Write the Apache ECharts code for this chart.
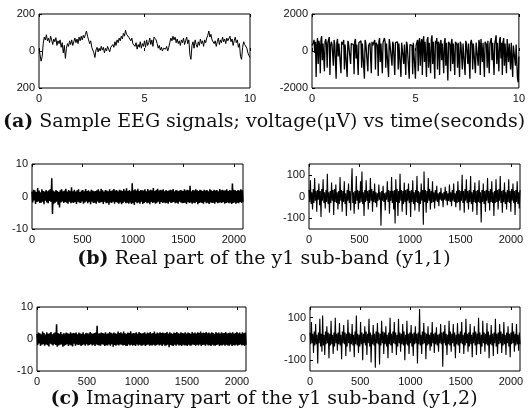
<!DOCTYPE html>
<html>
<head>
<meta charset="utf-8">
<script src="https://cdn.jsdelivr.net/npm/echarts@6/dist/echarts.min.js"></script>
<style>
  html, body { margin: 0; padding: 0; background: #fff; }
  #chart { width: 528px; height: 418px; }
</style>
</head>
<body>
<div id="chart"></div>
<script>
// (a) sample EEG signals, voltage (uV) vs time (s), 0..10 s
const eegLeft = [
  10, -20, -55, -30, 40, 75, 60, 88, 55, 70, 45, 80, 60, 35, 65, 50, 72, 30, 55, 40,
  60, 20, 45, -10, 30, -40, 15, 40, 25, 55, 35, 60, 30, 50, 70, 45, 65, 40, 75, 55,
  80, 60, 85, 70, 90, 108, 80, 60, 40, 55, 20, 30, -10, -35, 5, 20, -5, 15, 0, 25,
  5, 20, -10, 15, 0, 25, 10, -5, 20, 10, 35, 20, 50, 30, 60, 45, 70, 55, 80, 65,
  95, 80, 112, 90, 100, 75, 85, 55, 70, 40, 50, 25, 45, 10, 35, 20, 50, 15, 40, 25,
  55, 20, 60, 30, 45, 70, 35, 60, 25, 75, 85, 60, 40, 15, 30, 5, 20, 0, 15, 5,
  10, 25, 0, 20, 45, 70, 55, 80, 60, 75, 45, 65, 40, 55, 30, 60, 45, 70, 35, 55,
  75, 40, 60, -20, -45, 30, 50, 15, 60, 35, 20, 50, 30, 65, 40, 55, 25, 60, 45, 70,
  85, 108, 75, 90, 60, 70, 40, 55, 25, 50, 70, 35, 60, 45, 75, 50, 65, 40, 70, 55,
  45, 80, 50, 65, 30, 55, 75, 45, 60, 20, 40, -30, -45, 20, 50, 35, 45, 15, -10, -25, -35
];
const eegRight = [
  300, 250, 450, 600, -100, 500, -1400, 300, 700, -700, 550, 350, -1200, 600, 800, -500, 400, 300, -1100, 500, 650, 350, -900, 450, 400, 750, -1300, 300, 500, 350,
  400, -800, 600, 350, 300, -1500, 450, 650, -300, 400, 350, 300, -1200, 500, 400, 350, 600, -1000, 350, 300, 450, -1400, 550, 400, 300, 350, -700, 400, 450, 300,
  350, -1250, 500, 650, -400, 350, 300, -1300, 450, 400, 350, 550, -900, 400, 300, 350, -1500, 600, 450, 350, 400, -1100, 300, 350, 450, 350, -1200, 500, 300, 400,
  350, 600, -1000, 450, 350, 300, -1350, 500, 700, -600, 400, 350, -1200, 450, 350, 700, 500, -900, 400, 350, 300, -1400, 650, 400, 350, 300, -800, 500, 350, 300,
  -1300, 450, 400, 350, 500, -1000, 400, 350, 300, -1400, 450, 350, 400, -700, 350, 300, -1300, 500, 350, 400, 300, -1500, 350, 400, 350, 300, -1250, 450, 400, 350,
  -1500, 300, 350, 600, -1100, 500, 700, -800, 400, 650, -1300, 550, 800, -600, 500, 400, -1400, 600, 750, -900, 450, 350, -1200, 600, 850, -700, 500, 400, -1500, 550,
  400, 700, -1000, 500, 350, -1300, 450, 600, -500, 400, 350, -1200, 500, 700, -800, 450, 350, -1600, 500, 400, 350, -1100, 450, 650, -700, 400, 350, -1300, 500, 400,
  350, -900, 450, 400, -1400, 500, 350, 300, -1000, 400, 350, 450, -1300, 550, 400, 350, -700, 400, 350, -1500, 450, 600, 350, -1000, 400, 350, 300, -1200, 450, 350,
  500, -800, 600, 400, -1300, 650, 700, -600, 450, 350, -1400, 500, 400, 350, -900, 550, 600, -1200, 400, 350, 700, -500, 450, 350, -1300, 400, 600, 850, -700, 450,
  400, -1100, 600, 750, -400, 450, -1300, 500, 700, -800, 400, 350, -1200, 650, 550, -600, 400, 350, -1000, 450, 550, -1400, 300, 350, 400, -800, 350, 300, -1500, -1700, -300
];

// (b) real part of the y1 sub-band, samples 0..~2090
const realLeft = [
  1.5,-1.8,2.1,-1.2,1.9,-2.3,1.4,-1.7,2.6,-1.5,1.8,-2.0,1.3,-1.9,2.2,-1.6,1.7,-2.4,1.5,-1.3,2.0,-1.8,1.6,-2.1,1.9,-1.4,2.3,-1.7,5.6,-5.4,
  1.8,-2.2,1.5,-1.9,2.0,-1.6,1.7,-2.5,1.4,-3.4,1.9,-1.8,2.2,-1.5,1.6,-2.0,1.8,-1.7,2.4,-1.9,1.5,-2.2,2.0,-1.6,1.7,-2.1,2.8,-1.8,1.6,-2.0,
  2.1,-1.7,1.5,-2.3,1.9,-1.6,2.2,-1.9,1.4,-2.0,1.8,-1.5,2.0,-2.2,1.6,-1.8,2.3,-1.5,1.7,-2.1,1.9,-1.7,1.5,-2.4,2.1,-1.6,1.8,-2.0,1.6,-1.9,
  1.7,-2.2,1.9,-1.5,2.2,-2.0,1.6,-1.8,2.4,-1.7,1.9,-2.3,1.5,-1.6,2.0,-2.1,1.8,-1.9,1.6,-2.5,2.2,-1.8,1.7,-2.0,1.9,-1.6,2.3,-2.2,1.8,-1.7,
  2.0,-1.9,1.6,-2.2,2.1,-1.8,1.9,-2.4,1.7,-2.0,2.3,-1.6,1.8,-2.1,2.5,-1.9,1.7,-2.2,2.0,-1.8,1.6,-2.3,4.1,-2.0,1.9,-2.6,2.2,-1.7,1.8,-2.1,
  2.4,-1.8,1.7,-2.2,2.0,-1.6,1.9,-2.3,1.8,-2.0,2.2,-1.7,1.6,-2.1,2.3,-1.9,1.8,-2.4,2.1,-1.7,1.9,-2.0,2.6,-1.8,1.7,-2.2,2.0,-1.9,2.4,-1.6,
  1.8,-2.3,2.1,-1.7,1.9,-2.0,2.2,-1.8,1.6,-2.1,2.0,-1.9,1.7,-2.2,1.8,-1.6,2.1,-2.0,1.9,-1.8,2.3,-1.7,1.6,-2.1,2.0,-1.9,1.8,-2.2,1.7,-1.6,
  2.0,-1.8,1.9,-2.1,1.7,-2.0,2.2,-1.9,1.8,-2.3,2.1,-1.7,1.9,-2.0,3.3,-1.8,1.6,-2.2,2.0,-1.9,1.8,-2.1,2.2,-1.7,1.9,-2.4,1.7,-2.0,2.1,-1.8,
  1.9,-2.0,1.7,-2.2,2.1,-1.6,1.8,-2.1,2.0,-1.9,1.6,-2.3,2.2,-1.8,1.9,-2.0,1.7,-1.9,2.1,-2.2,1.8,-1.7,2.0,-2.1,1.6,-1.9,2.3,-1.8,1.9,-2.0,
  2.1,-1.7,1.8,-2.2,1.9,-2.0,2.2,-1.8,1.7,-2.1,2.0,-1.9,1.8,-2.3,4.0,-2.0,2.1,-1.8,1.9,-2.2,1.7,-1.9,2.0,-2.1,1.8,-1.7,2.2,-2.0,1.9,-1.6
];
const realRight = [
  30,-25,75,-35,20,-60,35,-30,85,-20,25,-70,30,-15,60,-40,25,-95,35,-20,80,-30,20,-55,30,-25,105,-35,20,-75,
  25,-30,65,-20,30,-85,35,-25,55,-30,20,-60,25,-35,90,-20,30,-70,25,-25,70,-35,15,-90,30,-20,60,-30,25,-65,
  35,130,-30,20,-80,25,-35,95,-20,30,-60,25,-30,70,-25,115,-35,20,-90,30,-25,75,-20,25,-60,30,-30,85,-20,35,
  -70,25,-25,60,-30,20,-50,15,-20,55,-15,20,-135,25,-20,50,-25,15,-65,20,-15,70,-25,30,-80,25,-20,90,-30,25,
  -60,30,-125,80,-25,35,-90,25,-30,105,-20,30,-70,25,-35,65,-25,30,-85,35,-20,60,-30,25,-95,30,-25,75,-35,20,
  -65,30,-25,95,-30,25,-70,20,-35,60,-20,30,-130,115,-25,30,-75,25,-30,85,-20,35,-60,25,-30,70,-25,20,-55,30,
  -20,50,-25,15,-45,20,-15,40,-20,15,-50,20,-15,45,-20,25,-40,15,-20,55,-25,20,-45,30,-20,60,-25,15,-50,25,
  -30,70,-25,30,-65,25,-20,100,-30,25,-75,35,-20,80,-30,25,-60,30,-25,95,-35,20,-70,30,-25,65,-30,25,-85,30,
  -25,75,-30,20,-120,30,-25,60,-35,25,-70,30,-20,85,-30,25,-65,35,-25,70,-30,20,-90,25,-30,80,-25,30,-60,35,
  -20,95,-30,25,-75,30,-25,65,-35,20,-60,30,-25,80,-30,25,-70,35,-20,60,-30,25,-85,30,-25,70,-35,20,-55,30
];

// (c) imaginary part of the y1 sub-band
const imagLeft = [
  1.6,-1.9,2.0,-1.4,1.8,-2.2,1.5,-1.8,2.3,-1.6,1.9,-2.1,1.4,-1.7,2.1,-1.9,1.6,-2.3,1.8,-1.5,2.2,-1.7,1.5,-2.0,1.8,-1.6,2.1,-1.9,4.6,-2.4,
  1.9,-2.0,1.6,-1.8,2.2,-1.7,1.5,-2.4,1.8,-2.1,1.7,-1.9,2.0,-1.6,1.8,-2.2,1.6,-1.8,2.1,-2.0,1.7,-2.3,1.9,-1.5,1.8,-2.1,2.0,-1.7,1.5,-1.9,
  2.0,-1.8,1.7,-2.2,1.6,-1.9,2.1,-1.7,1.5,-2.1,1.9,-1.6,1.8,-2.0,1.7,-1.9,2.2,-1.6,1.8,-2.0,1.6,-1.8,1.9,-2.2,2.0,-1.7,4.1,-1.9,1.7,-2.0,
  1.8,-2.1,2.0,-1.6,1.9,-1.8,1.7,-2.2,2.1,-1.9,1.6,-2.0,1.8,-1.7,2.2,-2.1,1.9,-1.6,1.7,-2.4,2.0,-1.9,1.8,-2.1,1.6,-1.8,2.3,-2.0,1.9,-1.7,
  2.1,-1.8,1.7,-2.0,2.3,-1.9,1.8,-2.1,1.6,-2.2,2.0,-1.7,1.9,-2.0,2.4,-1.8,1.7,-2.1,1.9,-1.9,1.8,-2.2,2.1,-1.7,1.6,-2.0,2.2,-1.8,1.9,-2.1,
  1.7,-2.0,1.9,-1.8,2.1,-2.2,1.6,-1.9,2.0,-1.7,1.8,-2.1,2.2,-1.9,1.7,-2.0,1.9,-1.8,2.3,-2.1,1.6,-1.9,2.0,-1.7,1.8,-2.0,2.1,-1.8,1.9,-2.2,
  2.0,-1.7,1.8,-2.1,1.9,-2.0,2.2,-1.8,1.7,-2.6,2.1,-1.9,1.8,-2.0,1.6,-2.2,2.0,-1.8,1.9,-2.1,2.2,-1.7,1.8,-2.0,1.7,-1.9,2.1,-2.2,1.9,-1.8,
  1.8,-2.0,2.1,-1.9,1.7,-2.2,2.0,-1.8,1.9,-2.1,1.6,-2.0,2.2,-1.7,1.8,-1.9,2.0,-2.1,1.7,-1.8,2.1,-2.0,1.9,-1.7,2.3,-2.2,1.8,-1.9,2.0,-1.8,
  1.9,-2.1,2.2,-1.7,1.8,-2.0,2.0,-1.9,1.7,-2.2,2.1,-1.8,1.9,-2.0,1.6,-2.1,2.2,-1.9,1.8,-1.7,2.0,-2.2,1.7,-1.9,2.1,-2.0,1.8,-1.8,1.9,-2.1,
  2.2,-1.8,1.7,-2.0,1.9,-2.1,2.0,-1.7,1.8,-2.2,2.1,-1.9,1.7,-2.0,1.9,-1.8,2.2,-2.1,1.8,-1.9,2.0,-1.7,1.6,-2.0,2.1,-1.9,1.8,-2.2,2.0,-1.8
];
const imagRight = [
  30,-25,80,-20,25,-65,35,-30,70,-25,20,-115,30,-20,95,-35,25,-60,110,-30,20,-75,35,-25,60,-20,30,-90,25,-30,
  85,-25,20,-70,30,-35,100,-20,25,-55,30,-25,75,-30,20,-95,35,-20,65,-25,30,-80,25,-35,90,-20,30,-60,25,-25,
  70,-30,20,-85,35,-25,110,-30,25,-65,20,-35,80,-25,30,-100,25,-20,60,-30,35,-75,25,-20,95,-35,30,-110,20,-25,
  65,-30,25,-135,35,-20,75,-25,30,-120,25,-30,85,-20,35,-70,30,-25,60,-35,20,-90,30,-25,100,-30,25,-65,35,-20,
  80,-25,30,-75,20,-35,95,-20,30,-60,25,-25,70,-30,35,-100,20,-25,85,-30,25,-70,30,-20,65,-35,25,-80,30,-25,
  60,-20,25,-115,30,-25,140,-30,20,-70,35,-25,75,-20,30,-95,25,-30,60,-25,20,-55,30,-35,80,-20,25,-65,30,-25,
  55,-30,20,-60,25,-20,70,-25,30,-130,35,-20,65,-30,25,-75,20,-25,85,-30,35,-60,25,-20,70,-35,30,-90,20,-25,
  75,-30,25,-65,35,-20,80,-25,20,-70,30,-30,95,-20,25,-60,30,-35,70,-25,20,-85,30,-20,60,-30,35,-75,25,-25,
  100,-25,30,-70,20,-35,85,-20,30,-60,25,-25,75,-30,35,-90,20,-25,65,-30,25,-80,30,-20,95,-35,25,-70,30,-25,
  70,-20,35,-65,25,-30,80,-25,20,-75,30,-20,60,-35,25,-85,30,-25,75,-20,35,-60,25,-30,70,-25,20,-55,30,-25
];

const timeTicks = [0, 5, 10];
const sampleTicks = [0, 500, 1000, 1500, 2000];
const eegLeftTicks = [-200, 0, 200];
const eegRightTicks = [-2000, 0, 2000];
const smallTicks = [-10, 0, 10];
const bigTicks = [-100, 0, 100];
const captions = [
  'Sample EEG signals; voltage(μV) vs time(seconds)',
  'Real part of the y1 sub-band (y1,1)',
  'Imaginary part of the y1 sub-band (y1,2)'
];

const SAMPLE_MAX = 2090;

const labelFont = { fontFamily: 'Liberation Sans', fontSize: 11, color: '#111' };
const plain = v => String(v);

const grids = [];
const xAxes = [];
const yAxes = [];
const series = [];

function addPanel(rect, xMax, xTicks, yMin, yMax, yTicks, yFmt, values, width) {
  const g = grids.length;
  grids.push({
    left: rect[0], top: rect[1], width: rect[2], height: rect[3],
    show: true, borderColor: '#000', borderWidth: 1, backgroundColor: '#fff'
  });
  const tick = { inside: true, length: 3, customValues: xTicks, lineStyle: { color: '#000', width: 1 } };
  xAxes.push({
    type: 'value', gridIndex: g, min: 0, max: xMax, position: 'bottom',
    axisLine: { show: false }, splitLine: { show: false },
    axisTick: tick,
    axisLabel: Object.assign({ customValues: xTicks, margin: 5, formatter: plain, showMaxLabel: true, showMinLabel: true }, labelFont)
  });
  xAxes.push({
    type: 'value', gridIndex: g, min: 0, max: xMax, position: 'top',
    axisLine: { show: false }, splitLine: { show: false },
    axisTick: tick, axisLabel: { show: false }
  });
  const yi = yAxes.length;
  yAxes.push({
    type: 'value', gridIndex: g, min: yMin, max: yMax,
    axisLine: { show: false }, splitLine: { show: false },
    axisTick: { inside: true, length: 3, customValues: yTicks, lineStyle: { color: '#000', width: 1 } },
    axisLabel: Object.assign({ customValues: yTicks, margin: 4, formatter: yFmt }, labelFont)
  });
  const step = xMax / (values.length - 1);
  series.push({
    type: 'line', xAxisIndex: xAxes.length - 2, yAxisIndex: yi,
    data: values.map((v, i) => [i * step, v]),
    symbol: 'none', sampling: 'none', clip: true,
    lineStyle: { color: '#000', width: width },
    silent: true
  });
}

// the reference prints the lower bound of the first panel without its minus sign
addPanel([39, 14, 211, 74], 10, timeTicks, -200, 200, eegLeftTicks, v => String(Math.abs(v)), eegLeft, 1);
addPanel([312, 14, 211, 74], 10, timeTicks, -2000, 2000, eegRightTicks, plain, eegRight, 1.3);
addPanel([32, 164, 211, 65], SAMPLE_MAX, sampleTicks, -10, 10, smallTicks, plain, realLeft, 1.5);
addPanel([309, 164, 211, 65], SAMPLE_MAX, sampleTicks, -150, 150, bigTicks, plain, realRight, 1.1);
addPanel([37, 307, 209, 64], SAMPLE_MAX, sampleTicks, -10, 10, smallTicks, plain, imagLeft, 1.5);
addPanel([310, 307, 210, 64], SAMPLE_MAX, sampleTicks, -150, 150, bigTicks, plain, imagRight, 1.1);

const captionStyle = {
  fontFamily: 'DejaVu Serif', fontSize: 19, fontWeight: 'normal', color: '#111',
  rich: { b: { fontFamily: 'DejaVu Serif', fontSize: 19, fontWeight: 'bold', color: '#111' } }
};
const title = [
  { text: '{b|(a)} ' + captions[0], left: 'center', top: 108, textStyle: captionStyle },
  { text: '{b|(b)} ' + captions[1], left: 'center', top: 245, textStyle: captionStyle },
  { text: '{b|(c)} ' + captions[2], left: 'center', top: 385, textStyle: captionStyle }
];

const chart = echarts.init(document.getElementById('chart'), null, { renderer: 'canvas' });
chart.setOption({
  animation: false,
  backgroundColor: '#fff',
  title: title,
  grid: grids,
  xAxis: xAxes,
  yAxis: yAxes,
  series: series
});
</script>
</body>
</html>
